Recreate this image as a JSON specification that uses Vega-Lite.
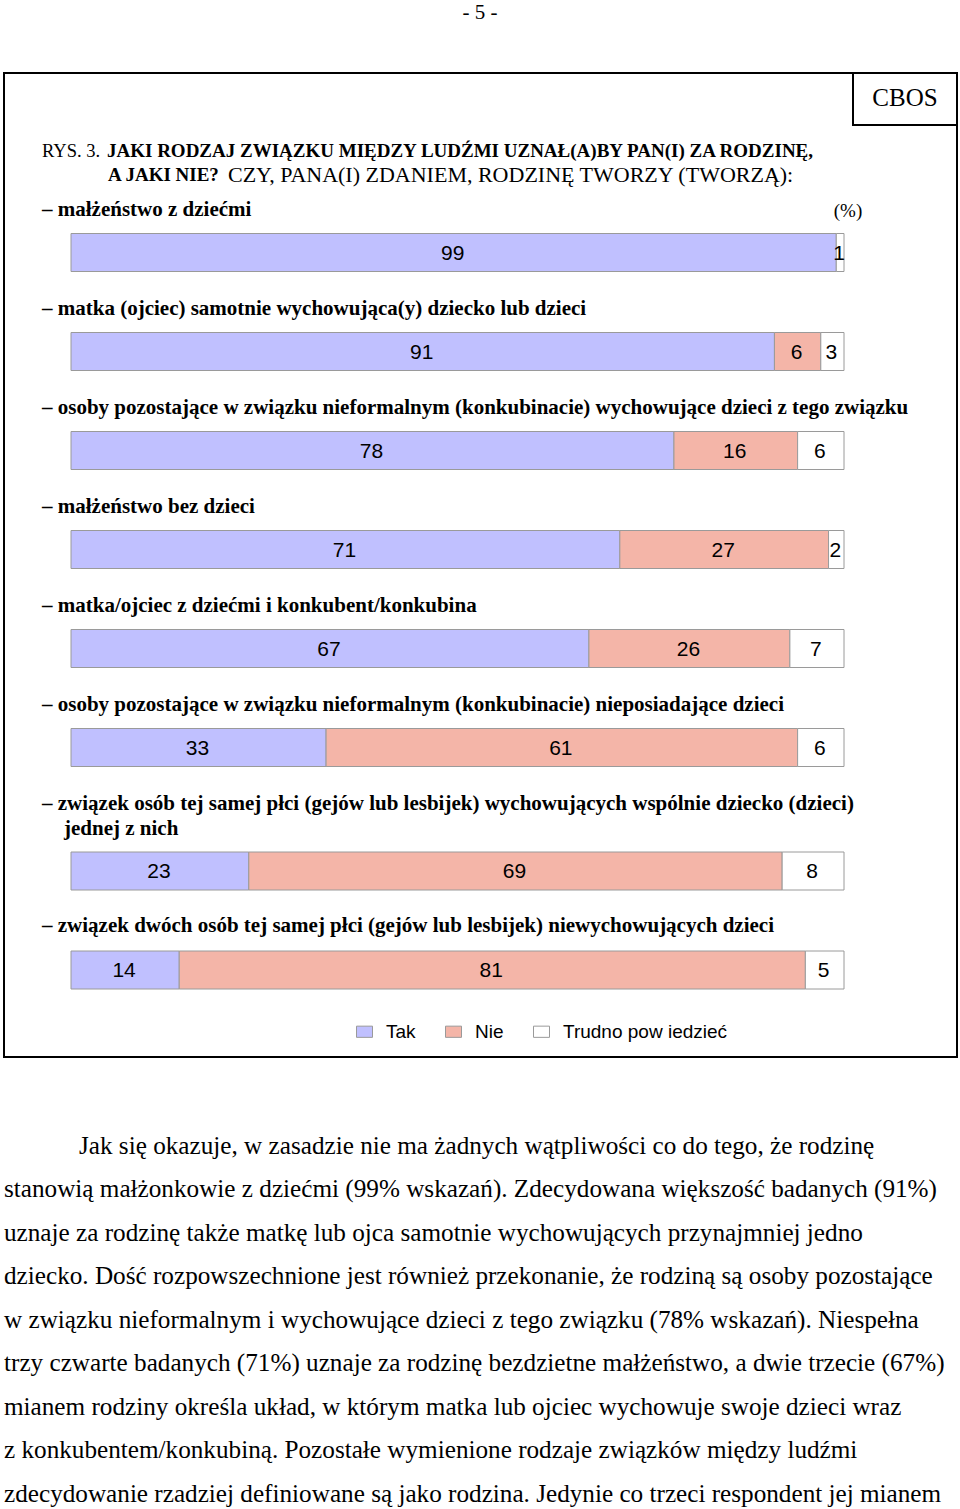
{
  "$schema": "https://vega.github.io/schema/vega-lite/v6.json",
  "width": 960,
  "height": 1509,
  "padding": 0,
  "autosize": {"type": "none"},
  "background": "white",
  "config": {"view": {"stroke": null}, "font": "Liberation Serif"},
  "datasets": {
    "bars": [
      {"item": "małżeństwo z dziećmi", "answer": "Tak", "k": 1, "value": 99},
      {"item": "małżeństwo z dziećmi", "answer": "Trudno pow iedzieć", "k": 3, "value": 1},
      {"item": "matka (ojciec) samotnie wychowująca(y) dziecko lub dzieci", "answer": "Tak", "k": 1, "value": 91},
      {"item": "matka (ojciec) samotnie wychowująca(y) dziecko lub dzieci", "answer": "Nie", "k": 2, "value": 6},
      {"item": "matka (ojciec) samotnie wychowująca(y) dziecko lub dzieci", "answer": "Trudno pow iedzieć", "k": 3, "value": 3},
      {"item": "osoby pozostające w związku nieformalnym (konkubinacie) wychowujące dzieci z tego związku", "answer": "Tak", "k": 1, "value": 78},
      {"item": "osoby pozostające w związku nieformalnym (konkubinacie) wychowujące dzieci z tego związku", "answer": "Nie", "k": 2, "value": 16},
      {"item": "osoby pozostające w związku nieformalnym (konkubinacie) wychowujące dzieci z tego związku", "answer": "Trudno pow iedzieć", "k": 3, "value": 6},
      {"item": "małżeństwo bez dzieci", "answer": "Tak", "k": 1, "value": 71},
      {"item": "małżeństwo bez dzieci", "answer": "Nie", "k": 2, "value": 27},
      {"item": "małżeństwo bez dzieci", "answer": "Trudno pow iedzieć", "k": 3, "value": 2},
      {"item": "matka/ojciec z dziećmi i konkubent/konkubina", "answer": "Tak", "k": 1, "value": 67},
      {"item": "matka/ojciec z dziećmi i konkubent/konkubina", "answer": "Nie", "k": 2, "value": 26},
      {"item": "matka/ojciec z dziećmi i konkubent/konkubina", "answer": "Trudno pow iedzieć", "k": 3, "value": 7},
      {"item": "osoby pozostające w związku nieformalnym (konkubinacie) nieposiadające dzieci", "answer": "Tak", "k": 1, "value": 33},
      {"item": "osoby pozostające w związku nieformalnym (konkubinacie) nieposiadające dzieci", "answer": "Nie", "k": 2, "value": 61},
      {"item": "osoby pozostające w związku nieformalnym (konkubinacie) nieposiadające dzieci", "answer": "Trudno pow iedzieć", "k": 3, "value": 6},
      {"item": "związek osób tej samej płci (gejów lub lesbijek) wychowujących wspólnie dziecko (dzieci) jednej z nich", "answer": "Tak", "k": 1, "value": 23},
      {"item": "związek osób tej samej płci (gejów lub lesbijek) wychowujących wspólnie dziecko (dzieci) jednej z nich", "answer": "Nie", "k": 2, "value": 69},
      {"item": "związek osób tej samej płci (gejów lub lesbijek) wychowujących wspólnie dziecko (dzieci) jednej z nich", "answer": "Trudno pow iedzieć", "k": 3, "value": 8},
      {"item": "związek dwóch osób tej samej płci (gejów lub lesbijek) niewychowujących dzieci", "answer": "Tak", "k": 1, "value": 14},
      {"item": "związek dwóch osób tej samej płci (gejów lub lesbijek) niewychowujących dzieci", "answer": "Nie", "k": 2, "value": 81},
      {"item": "związek dwóch osób tej samej płci (gejów lub lesbijek) niewychowujących dzieci", "answer": "Trudno pow iedzieć", "k": 3, "value": 5}
    ],
    "labels": [
      {"item": "małżeństwo z dziećmi", "line": 1, "text": "– małżeństwo z dziećmi"},
      {"item": "matka (ojciec) samotnie wychowująca(y) dziecko lub dzieci", "line": 1, "text": "– matka (ojciec) samotnie wychowująca(y) dziecko lub dzieci"},
      {"item": "osoby pozostające w związku nieformalnym (konkubinacie) wychowujące dzieci z tego związku", "line": 1, "text": "– osoby pozostające w związku nieformalnym (konkubinacie) wychowujące dzieci z tego związku"},
      {"item": "małżeństwo bez dzieci", "line": 1, "text": "– małżeństwo bez dzieci"},
      {"item": "matka/ojciec z dziećmi i konkubent/konkubina", "line": 1, "text": "– matka/ojciec z dziećmi i konkubent/konkubina"},
      {"item": "osoby pozostające w związku nieformalnym (konkubinacie) nieposiadające dzieci", "line": 1, "text": "– osoby pozostające w związku nieformalnym (konkubinacie) nieposiadające dzieci"},
      {"item": "związek osób tej samej płci (gejów lub lesbijek) wychowujących wspólnie dziecko (dzieci) jednej z nich", "line": 1, "text": "– związek osób tej samej płci (gejów lub lesbijek) wychowujących wspólnie dziecko (dzieci)"},
      {"item": "związek osób tej samej płci (gejów lub lesbijek) wychowujących wspólnie dziecko (dzieci) jednej z nich", "line": 2, "text": "jednej z nich"},
      {"item": "związek dwóch osób tej samej płci (gejów lub lesbijek) niewychowujących dzieci", "line": 1, "text": "– związek dwóch osób tej samej płci (gejów lub lesbijek) niewychowujących dzieci"}
    ]
  },
  "layer": [
    {
      "data": {"values": [{}]},
      "mark": {"type": "rect", "fill": "white", "fillOpacity": 0, "stroke": "black", "strokeWidth": 2},
      "encoding": {"x": {"value": 4}, "x2": {"value": 957}, "y": {"value": 73}, "y2": {"value": 1057}}
    },
    {
      "data": {"values": [{}]},
      "mark": {"type": "rect", "fill": "white", "fillOpacity": 0, "stroke": "black", "strokeWidth": 2},
      "encoding": {"x": {"value": 853}, "x2": {"value": 957}, "y": {"value": 73}, "y2": {"value": 125}}
    },
    {
      "data": {"values": [{}]},
      "mark": {"type": "text", "text": "CBOS", "font": "Liberation Serif", "fontSize": 25, "align": "center", "baseline": "middle", "color": "black"},
      "encoding": {"x": {"value": 905}, "y": {"value": 98}}
    },
    {
      "data": {"values": [{}]},
      "mark": {"type": "text", "text": "- 5 -", "font": "Liberation Serif", "fontSize": 21, "align": "center", "baseline": "middle", "color": "black"},
      "encoding": {"x": {"value": 480}, "y": {"value": 13}}
    },
    {
      "data": {"values": [{}]},
      "mark": {"type": "text", "text": "RYS. 3.", "font": "Liberation Serif", "fontSize": 18.5, "align": "left", "baseline": "middle", "color": "black"},
      "encoding": {"x": {"value": 42}, "y": {"value": 151}}
    },
    {
      "data": {"values": [{}]},
      "mark": {"type": "text", "text": "JAKI RODZAJ ZWIĄZKU MIĘDZY LUDŹMI UZNAŁ(A)BY PAN(I) ZA RODZINĘ,", "font": "Liberation Serif", "fontWeight": "bold", "fontSize": 19, "align": "left", "baseline": "middle", "color": "black"},
      "encoding": {"x": {"value": 107}, "y": {"value": 151}}
    },
    {
      "data": {"values": [{}]},
      "mark": {"type": "text", "text": "A JAKI NIE?", "font": "Liberation Serif", "fontWeight": "bold", "fontSize": 19, "align": "left", "baseline": "middle", "color": "black"},
      "encoding": {"x": {"value": 108}, "y": {"value": 175}}
    },
    {
      "data": {"values": [{}]},
      "mark": {"type": "text", "text": "CZY, PANA(I) ZDANIEM, RODZINĘ TWORZY (TWORZĄ):", "font": "Liberation Serif", "fontSize": 22, "align": "left", "baseline": "middle", "color": "black"},
      "encoding": {"x": {"value": 228}, "y": {"value": 175}}
    },
    {
      "data": {"values": [{}]},
      "mark": {"type": "text", "text": "(%)", "font": "Liberation Serif", "fontSize": 19, "align": "center", "baseline": "middle", "color": "black"},
      "encoding": {"x": {"value": 848}, "y": {"value": 211}}
    },
    {
      "data": {"name": "labels"},
      "transform": [{"filter": "datum.line == 1 && datum.item != 'związek dwóch osób tej samej płci (gejów lub lesbijek) niewychowujących dzieci'"}],
      "mark": {"type": "text", "font": "Liberation Serif", "fontWeight": "bold", "fontSize": 21, "align": "left", "baseline": "middle", "color": "black", "dy": -42.5},
      "encoding": {
        "x": {"value": 42},
        "y": {"field": "item", "type": "nominal", "sort": null, "axis": null},
        "text": {"field": "text"}
      }
    },
    {
      "data": {"name": "labels"},
      "transform": [{"filter": "datum.line == 2"}],
      "mark": {"type": "text", "font": "Liberation Serif", "fontWeight": "bold", "fontSize": 21, "align": "left", "baseline": "middle", "color": "black", "dy": -17.5},
      "encoding": {
        "x": {"value": 64},
        "y": {"field": "item", "type": "nominal", "sort": null, "axis": null},
        "text": {"field": "text"}
      }
    },
    {
      "data": {"name": "labels"},
      "transform": [{"filter": "datum.item == 'związek dwóch osób tej samej płci (gejów lub lesbijek) niewychowujących dzieci'"}],
      "mark": {"type": "text", "font": "Liberation Serif", "fontWeight": "bold", "fontSize": 21, "align": "left", "baseline": "middle", "color": "black", "dy": -19.5},
      "encoding": {
        "x": {"value": 42},
        "y": {"field": "item", "type": "nominal", "sort": null, "axis": null},
        "text": {"field": "text"}
      }
    },
    {
      "data": {"name": "bars"},
      "transform": [{"filter": {"field": "item", "oneOf": ["małżeństwo z dziećmi", "matka (ojciec) samotnie wychowująca(y) dziecko lub dzieci", "osoby pozostające w związku nieformalnym (konkubinacie) wychowujące dzieci z tego związku", "małżeństwo bez dzieci", "matka/ojciec z dziećmi i konkubent/konkubina", "osoby pozostające w związku nieformalnym (konkubinacie) nieposiadające dzieci"]}}],
      "mark": {"type": "bar", "height": 38, "stroke": "#9a9a9a", "strokeWidth": 1, "xOffset": 1, "x2Offset": -1},
      "encoding": {
        "y": {"field": "item", "type": "nominal", "sort": null, "axis": null,
              "scale": {"domain": ["małżeństwo z dziećmi", "matka (ojciec) samotnie wychowująca(y) dziecko lub dzieci", "osoby pozostające w związku nieformalnym (konkubinacie) wychowujące dzieci z tego związku", "małżeństwo bez dzieci", "matka/ojciec z dziećmi i konkubent/konkubina", "osoby pozostające w związku nieformalnym (konkubinacie) nieposiadające dzieci", "związek osób tej samej płci (gejów lub lesbijek) wychowujących wspólnie dziecko (dzieci) jednej z nich", "związek dwóch osób tej samej płci (gejów lub lesbijek) niewychowujących dzieci"], "range": [203, 995], "paddingInner": 0, "paddingOuter": 0}},
        "x": {"field": "value", "type": "quantitative", "stack": "zero", "axis": null, "scale": {"domain": [0, 100], "range": [70, 843], "nice": false, "zero": false}},
        "color": {"field": "answer", "type": "nominal",
                  "scale": {"domain": ["Tak", "Nie", "Trudno pow iedzieć"], "range": ["#C0C0FF", "#F4B5A8", "#FFFFFF"]},
                  "legend": {"title": null, "orient": "none", "legendX": 355, "legendY": 1022, "direction": "horizontal", "symbolType": "M-1,-0.7H1V0.7H-1Z", "symbolSize": 256, "symbolStrokeColor": "#999999", "symbolStrokeWidth": 1, "labelFont": "Liberation Sans", "labelFontSize": 19, "labelColor": "black", "labelOffset": 12, "labelLimit": 400, "columnPadding": 27}},
        "order": {"field": "k", "type": "quantitative"}
      }
    },
    {
      "data": {"name": "bars"},
      "transform": [{"filter": {"field": "item", "oneOf": ["związek osób tej samej płci (gejów lub lesbijek) wychowujących wspólnie dziecko (dzieci) jednej z nich", "związek dwóch osób tej samej płci (gejów lub lesbijek) niewychowujących dzieci"]}}],
      "mark": {"type": "bar", "height": 38, "stroke": "#9a9a9a", "strokeWidth": 1, "xOffset": 1, "x2Offset": -1, "yOffset": 24.5},
      "encoding": {
        "y": {"field": "item", "type": "nominal", "sort": null, "axis": null},
        "x": {"field": "value", "type": "quantitative", "stack": "zero", "axis": null},
        "color": {"field": "answer", "type": "nominal"},
        "order": {"field": "k", "type": "quantitative"}
      }
    },
    {
      "data": {"name": "bars"},
      "transform": [{"filter": {"field": "item", "oneOf": ["małżeństwo z dziećmi", "matka (ojciec) samotnie wychowująca(y) dziecko lub dzieci", "osoby pozostające w związku nieformalnym (konkubinacie) wychowujące dzieci z tego związku", "małżeństwo bez dzieci", "matka/ojciec z dziećmi i konkubent/konkubina", "osoby pozostające w związku nieformalnym (konkubinacie) nieposiadające dzieci"]}}],
      "mark": {"type": "text", "font": "Liberation Sans", "fontSize": 21, "align": "center", "baseline": "middle", "color": "black", "dy": 1},
      "encoding": {
        "y": {"field": "item", "type": "nominal", "sort": null, "axis": null},
        "x": {"field": "value", "type": "quantitative", "stack": "zero", "bandPosition": 0.5, "axis": null},
        "detail": {"field": "answer"},
        "order": {"field": "k", "type": "quantitative"},
        "text": {"field": "value", "type": "quantitative"}
      }
    },
    {
      "data": {"name": "bars"},
      "transform": [{"filter": {"field": "item", "oneOf": ["związek osób tej samej płci (gejów lub lesbijek) wychowujących wspólnie dziecko (dzieci) jednej z nich", "związek dwóch osób tej samej płci (gejów lub lesbijek) niewychowujących dzieci"]}}],
      "mark": {"type": "text", "font": "Liberation Sans", "fontSize": 21, "align": "center", "baseline": "middle", "color": "black", "dy": 25.5},
      "encoding": {
        "y": {"field": "item", "type": "nominal", "sort": null, "axis": null},
        "x": {"field": "value", "type": "quantitative", "stack": "zero", "bandPosition": 0.5, "axis": null},
        "detail": {"field": "answer"},
        "order": {"field": "k", "type": "quantitative"},
        "text": {"field": "value", "type": "quantitative"}
      }
    },
    {
      "data": {"values": [{}]},
      "mark": {"type": "text", "text": "Jak się okazuje, w zasadzie nie ma żadnych wątpliwości co do tego, że rodzinę", "font": "Liberation Serif", "fontSize": 25.2, "align": "left", "baseline": "middle", "color": "black"},
      "encoding": {"x": {"value": 79}, "y": {"value": 1146}}
    },
    {
      "data": {"values": [{}]},
      "mark": {"type": "text", "text": "stanowią małżonkowie z dziećmi (99% wskazań). Zdecydowana większość badanych (91%)\nuznaje za rodzinę także matkę lub ojca samotnie wychowujących przynajmniej jedno\ndziecko. Dość rozpowszechnione jest również przekonanie, że rodziną są osoby pozostające\nw związku nieformalnym i wychowujące dzieci z tego związku (78% wskazań). Niespełna\ntrzy czwarte badanych (71%) uznaje za rodzinę bezdzietne małżeństwo, a dwie trzecie (67%)\nmianem rodziny określa układ, w którym matka lub ojciec wychowuje swoje dzieci wraz\nz konkubentem/konkubiną. Pozostałe wymienione rodzaje związków między ludźmi\nzdecydowanie rzadziej definiowane są jako rodzina. Jedynie co trzeci respondent jej mianem", "lineBreak": "\n", "lineHeight": 43.5, "font": "Liberation Serif", "fontSize": 25.2, "align": "left", "baseline": "middle", "color": "black"},
      "encoding": {"x": {"value": 4}, "y": {"value": 1189}}
    }
  ]
}
